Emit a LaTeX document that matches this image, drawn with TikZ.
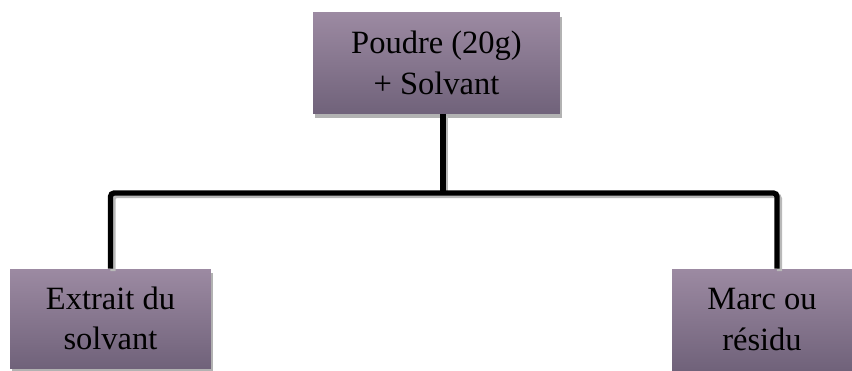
\documentclass[tikz,border=0pt]{standalone}
\usepackage{fontspec}
\setmainfont{Liberation Serif}
\definecolor{boxtop}{RGB}{156,138,162}
\definecolor{boxbot}{RGB}{112,98,122}
\usetikzlibrary{shadows}

\begin{document}
\begin{tikzpicture}[x=0.02cm, y=-0.02cm,
          etape/.style={top color=boxtop, bottom color=boxbot, draw=none,
                        font=\fontsize{18.5}{23}\selectfont, align=center,
                        inner sep=0pt,
                        drop shadow={shadow xshift=1pt, shadow yshift=-2.5pt,
                                     fill=gray!60, opacity=1}},
          lien/.style={line width=3pt, black, rounded corners=2pt,
                       preaction={draw=gray!55, line width=3pt,
                                  transform canvas={shift={(1.4pt,-1.4pt)}}}}
        ]
          \useasboundingbox (0,0) rectangle (852,370);
          \node[etape, minimum width=4.94cm, minimum height=2.02cm] (poudre) at (436.5,63)
               {Poudre (20g)\\+ Solvant};
          \node[etape, minimum width=4.02cm, minimum height=1.98cm] (extrait) at (110.5,318.5)
               {Extrait du\\solvant};
          \node[etape, minimum width=3.6cm, minimum height=2.02cm] (marc) at (762,319.5)
               {Marc ou\\résidu};
          \coordinate (jonction) at (443,193);
          \draw[lien] (poudre.south -| jonction) -- (jonction);
          \draw[lien] (extrait.north) |- (jonction) -| ([xshift=0.3cm]marc.north);
        \end{tikzpicture}
\end{document}
